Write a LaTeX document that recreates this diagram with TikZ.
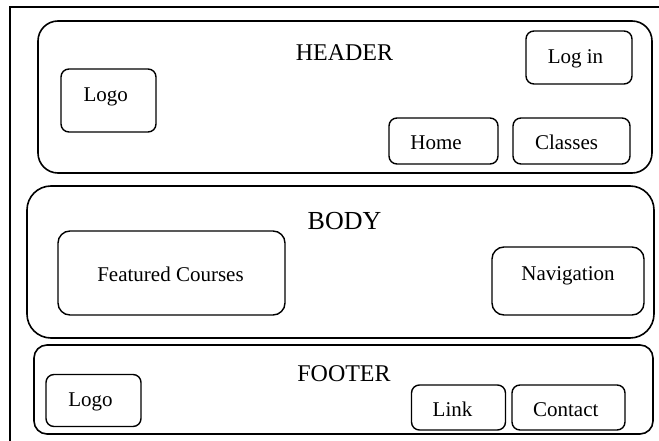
\documentclass[tikz,border=0pt]{standalone}
\usepackage{fontspec}
\setmainfont{Liberation Serif}
\begin{document}
\begin{tikzpicture}[x=1pt,y=-1pt,
  section/.style={draw, line width=1.6pt, inner sep=0pt},
  item/.style={draw, line width=1.4pt, rounded corners=8pt, inner sep=0pt},
  itemtxt/.style={font=\fontsize{21}{25}\selectfont, anchor=base, inner sep=0pt},
  titletxt/.style={font=\fontsize{24}{28}\selectfont, anchor=base, inner sep=0pt}]
\useasboundingbox (0,0) rectangle (659,441);
\draw[line width=1.6pt] (10,445) -- (10,7) -- (665,7);
% sections
\node[section, rounded corners=20pt, minimum width=614pt, minimum height=152pt] (header) at (345,97) {};
\node[section, rounded corners=24pt, minimum width=627pt, minimum height=152pt] (body) at (340.5,262) {};
\node[section, rounded corners=13pt, minimum width=619pt, minimum height=89pt] (footer) at (343.5,389.5) {};
% titles
\node[titletxt] (headertitle) at (344.5,61) {HEADER};
\node[titletxt, font=\fontsize{26}{30}\selectfont] (bodytitle) at (344.5,229.3) {BODY};
\node[titletxt] (footertitle) at (344,381.7) {FOOTER};
% header items
\node[item, minimum width=95pt, minimum height=63pt] (hlogo) at (108.5,100.5) {};
\node[itemtxt] (hlogot) at (105.8,101.7) {Logo};
\node[item, minimum width=106pt, minimum height=53pt] (login) at (579,57.5) {};
\node[itemtxt] (logint) at (575.5,63.3) {Log in};
\node[item, minimum width=109pt, minimum height=46pt] (home) at (443.5,141) {};
\node[itemtxt] (homet) at (436,150) {Home};
\node[item, minimum width=117pt, minimum height=46pt] (classes) at (571.5,141) {};
\node[itemtxt] (classest) at (566.5,150) {Classes};
% body items
\node[item, rounded corners=12pt, minimum width=227pt, minimum height=84pt] (featured) at (171.5,273) {};
\node[itemtxt] (featuredt) at (170.5,281.7) {Featured Courses};
\node[item, rounded corners=12pt, minimum width=152pt, minimum height=68pt] (nav) at (568,281) {};
\node[itemtxt] (navt) at (568,280) {Navigation};
% footer items
\node[item, minimum width=95pt, minimum height=52pt] (flogo) at (93.5,400.5) {};
\node[itemtxt] (flogot) at (90.5,406.7) {Logo};
\node[item, minimum width=94pt, minimum height=45pt] (link) at (458.5,407.5) {};
\node[itemtxt] (linkt) at (452.5,416.7) {Link};
\node[item, minimum width=113pt, minimum height=45pt] (contact) at (568.5,407.5) {};
\node[itemtxt] (contactt) at (565.8,416.7) {Contact};
\end{tikzpicture}
\end{document}
